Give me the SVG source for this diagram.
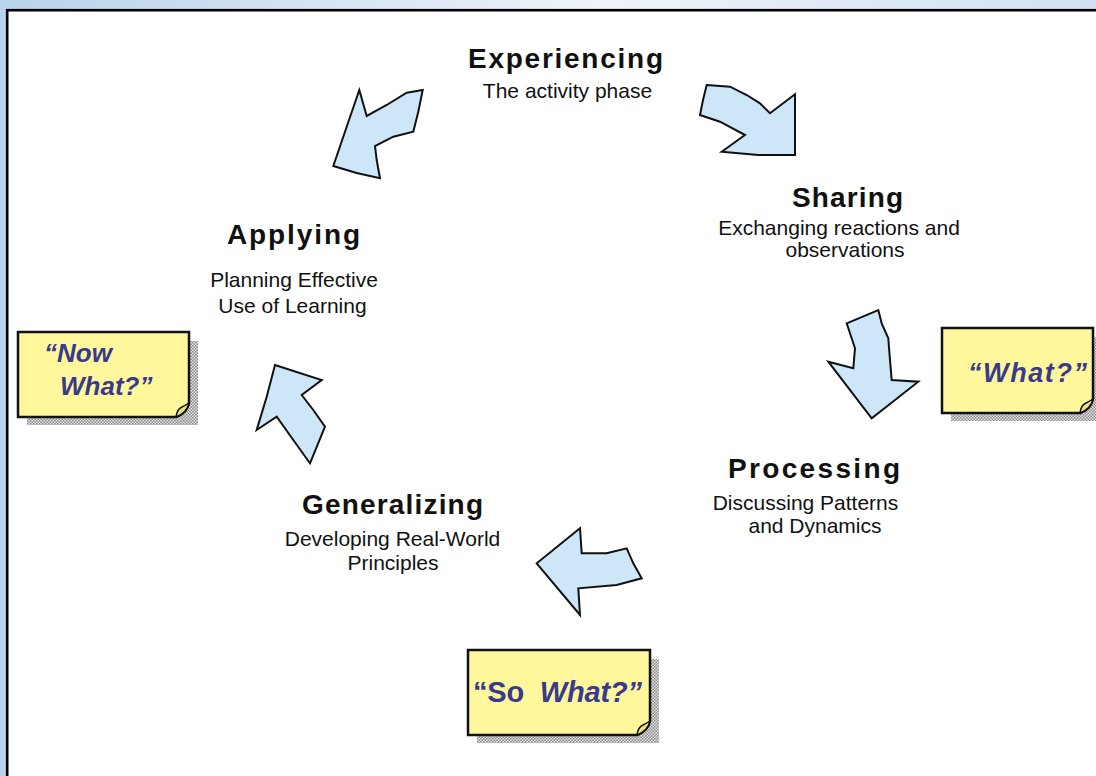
<svg xmlns="http://www.w3.org/2000/svg" width="1096" height="776" viewBox="0 0 1096 776">
  <defs>
    <linearGradient id="bg" x1="0" y1="0" x2="1" y2="0">
      <stop offset="0" stop-color="#b8d3eb"/>
      <stop offset="0.55" stop-color="#eef3fa"/>
      <stop offset="1" stop-color="#cfe1f2"/>
    </linearGradient>
    <pattern id="stipple" width="3" height="3" patternUnits="userSpaceOnUse">
      <rect width="3" height="3" fill="#e4e4e4"/>
      <rect width="1.5" height="1.5" fill="#8a8a8a"/>
      <rect x="1.5" y="1.5" width="1.5" height="1.5" fill="#8a8a8a"/>
    </pattern>
    <style>
      .title { font-family: "Liberation Sans", Arial, sans-serif; font-weight: bold; font-size: 28px; fill: #111; text-anchor: middle; }
      .sub { font-family: "Liberation Sans", Arial, sans-serif; font-size: 21px; fill: #111; text-anchor: middle; }
      .arrow { fill: #cde7f9; stroke: #111; stroke-width: 2; stroke-linejoin: miter; }
      .note { fill: #fff79c; stroke: #111; stroke-width: 2.5; }
      .curl { fill: #e9e08a; stroke: #111; stroke-width: 1.5; }
      .shadow { fill: url(#stipple); }
      .nt { font-family: "Liberation Sans", Arial, sans-serif; font-weight: bold; font-style: italic; fill: #3a3a8c; }
    </style>
  </defs>

  <rect x="0" y="0" width="1096" height="776" fill="url(#bg)"/>
  <rect x="7.2" y="10.2" width="1100" height="780" fill="#ffffff" stroke="#000" stroke-width="2.6"/>

  <g id="connectors">
    <polygon class="arrow" points="359.3,90 366.7,116 386.7,105 406.7,92.7 422.7,90 418.3,111.7 413.3,131.7 393.3,136.7 375,146 376.7,160 380,178.3 356.7,173 333.3,166 346.7,126.7"/>
    <polygon class="arrow" points="706.7,85 730,86.7 746.7,95 760,103.3 770,113.3 795,94.3 795,155 758.3,155 721.7,151.7 745,135 720,121.7 700,115 703,100"/>
    <polygon class="arrow" points="846.7,323.3 878.3,310 881.7,323.3 888.3,338.3 890,360 891.7,380 918.3,381.7 871.7,418.3 828.3,361.7 853.3,368.3 855,348.3 850,333.3"/>
    <polygon class="arrow" points="580,528.3 581.7,553.3 606.7,553.3 626.7,548.3 633.3,563.3 641.7,578.3 616.7,585 578.3,588.3 580,615 536.7,563.3"/>
    <polygon class="arrow" points="275,365 321.7,380 301.7,395 313.3,410 325,426.7 310,463.3 293.3,440 276.7,416.7 256.7,430 266.7,396.7"/>
  </g>

  <g id="experiencing">
    <text class="title" x="565.5" y="68" textLength="195" lengthAdjust="spacing">Experiencing</text>
    <text class="sub" x="567.5" y="98">The activity phase</text>
  </g>

  <g id="sharing">
    <text class="title" x="847.5" y="207" textLength="111" lengthAdjust="spacing">Sharing</text>
    <text class="sub" x="839" y="235">Exchanging reactions and</text>
    <text class="sub" x="845" y="257">observations</text>
  </g>

  <g id="processing">
    <text class="title" x="814" y="478" textLength="172" lengthAdjust="spacing">Processing</text>
    <text class="sub" x="805.5" y="510">Discussing Patterns</text>
    <text class="sub" x="815" y="533">and Dynamics</text>
  </g>

  <g id="generalizing">
    <text class="title" x="392.5" y="514" textLength="181" lengthAdjust="spacing">Generalizing</text>
    <text class="sub" x="392.5" y="546">Developing Real-World</text>
    <text class="sub" x="393" y="570">Principles</text>
  </g>

  <g id="applying">
    <text class="title" x="293.5" y="244" textLength="133" lengthAdjust="spacing">Applying</text>
    <text class="sub" x="294" y="287">Planning Effective</text>
    <text class="sub" x="292.5" y="313">Use of Learning</text>
  </g>

  <g id="note-now-what">
    <rect class="shadow" x="27" y="341" width="171" height="84"/>
    <path class="note" d="M18,332 H189 V403 Q187,413 176,417 H18 Z"/>
    <path class="curl" d="M176,417 Q177,409 182,407 Q186,405 189,403 Q187,413 176,417 Z"/>
    <text class="nt" font-size="26" x="44" y="362">“Now</text>
    <text class="nt" font-size="26" x="60" y="395">What?”</text>
  </g>

  <g id="note-what">
    <rect class="shadow" x="951" y="337" width="150" height="84"/>
    <path class="note" d="M942,328 H1093 V399 Q1091,409 1080,413 H942 Z"/>
    <path class="curl" d="M1080,413 Q1081,405 1086,403 Q1090,401 1093,399 Q1091,409 1080,413 Z"/>
    <text class="nt" font-size="27" x="1027.5" y="382" text-anchor="middle" textLength="119" lengthAdjust="spacing">“What?”</text>
  </g>

  <g id="note-so-what">
    <rect class="shadow" x="477" y="659" width="182" height="84"/>
    <path class="note" d="M468,650 H650 V721 Q648,731 637,735 H468 Z"/>
    <path class="curl" d="M637,735 Q638,727 643,725 Q647,723 650,721 Q648,731 637,735 Z"/>
    <text class="nt" font-size="29" x="557.5" y="702" text-anchor="middle" textLength="169" lengthAdjust="spacing"><tspan font-style="normal">“So</tspan>&#160; What?”</text>
  </g>
</svg>
